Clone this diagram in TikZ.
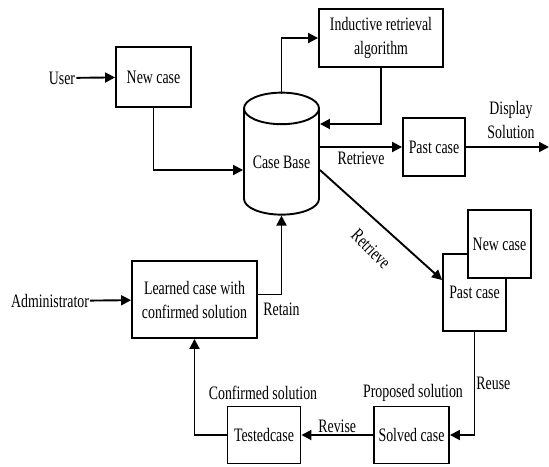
\documentclass[tikz,border=0pt]{standalone}
\usepackage{fontspec}
\setmainfont{Liberation Serif}[FakeStretch=0.73]
\usetikzlibrary{arrows.meta, shapes.geometric}

\begin{document}
\begin{tikzpicture}[x=1pt, y=-1pt,
    every node/.style={font=\fontsize{19}{24}\selectfont, inner sep=1pt},
    bx/.style={draw, line width=1.9pt, minimum width=#1, align=center},
    arr/.style={line width=1.9pt, -{Triangle[length=10pt,width=10pt]}}]

    \useasboundingbox (0,0) rectangle (549,466); % same size as the reference

    % boxes
    \node [bx=75, minimum height=60] (newc) at (153.5,77) {New case};
    \node [bx=124, minimum height=58] (ind) at (381,38) {Inductive retrieval\\algorithm};
    \node [draw, line width=1.9pt, cylinder, shape border rotate=90, aspect=0.55,
           minimum width=75, minimum height=122, inner sep=0] (cb) at (281.5,162) {\raisebox{-9pt}{Case Base}};
    \node [bx=62, minimum height=58] (past) at (434,147) {Past case};
    \node [bx=63, minimum height=77] (past2) at (474.5,292.5) {Past case};
    \node [bx=63, minimum height=68, fill=white] (new2) at (499.5,244) {New case};
    \node [bx=75, minimum height=57] (solved) at (411.5,435) {Solved case};
    \node [bx=73, minimum height=57] (tested) at (264,435) {Testedcase};
    \node [bx=125, minimum height=77] (learned) at (194.5,299.5) {Learned case with\\confirmed solution};

    % plain texts
    \node (user) at (62,78) {User};
    \node (admin) at (50,301) {Administrator};
    \node [align=center] (disp) at (511,120) {Display\\Solution};
    \node (prop) at (413,393) {Proposed solution};
    \node (conf) at (263,393) {Confirmed solution};
    \node [rotate=-45] (retr) at (371,249) {Retrieve};
    \coordinate (out) at (549,147);

    % connectors
    \draw [arr] (user) -- (newc);
    \draw [arr] (admin) -- (learned);
    \draw [arr] (newc.south) |- ([yshift=-8pt]cb.west);
    \draw [arr] ([yshift=-2pt]cb.north) |- (ind.west);
    \draw [arr] (ind.south) |- ([yshift=38pt]cb.east);
    \draw [arr] (cb.east |- past.west) -- node[below=3pt] {Retrieve} (past.west);
    \draw [arr] (past.east) -- (out);
    \draw [arr] ([yshift=-8pt]cb.east) -- ([yshift=12.5pt]past2.west);
    \draw [arr] (past2.south) |- node[pos=0.25, right] {Reuse} (solved.east);
    \draw [arr] (solved.west) -- node[above] {Revise} (tested.east);
    \draw [arr] (tested.west) -| (learned.south);
    \draw [arr] ([yshift=5pt]learned.east) -| node[pos=0.5, below=6pt] {Retain} (cb.south);

\end{tikzpicture}
\end{document}
